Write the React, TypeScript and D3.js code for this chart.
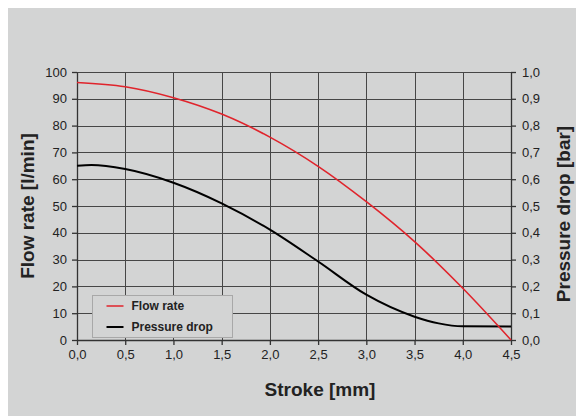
import { useEffect, useRef } from 'react';
import * as d3 from 'd3';

// Stroke positions [mm]
const strokes = [0, 0.5, 1.0, 1.5, 2.0, 2.5, 3.0, 3.5, 4.0, 4.5];
// Flow rate [l/min]
const flowRate = [96.1, 94.5, 90.4, 84.3, 75.7, 64.8, 51.6, 36.7, 19.3, 0];
// Pressure drop [bar]
const pressStrokes = [0, 0.15, 0.5, 1.0, 1.5, 2.0, 2.5, 3.0, 3.5, 3.75, 4.0, 4.5];
const pressureDrop = [0.65, 0.653, 0.638, 0.587, 0.51, 0.412, 0.293, 0.169, 0.087, 0.062, 0.051, 0.05];

const xTicks = [0, 0.5, 1.0, 1.5, 2.0, 2.5, 3.0, 3.5, 4.0, 4.5];
const leftTicks = [0, 10, 20, 30, 40, 50, 60, 70, 80, 90, 100];
const rightTicks = [0, 0.1, 0.2, 0.3, 0.4, 0.5, 0.6, 0.7, 0.8, 0.9, 1.0];

const seriesNames = ['Flow rate', 'Pressure drop'];
const seriesColors = ['#e0242c', '#000000'];

const fmt = (v: number) => v.toFixed(1).replace('.', ',');

export default function App() {
    const svgRef = useRef<SVGSVGElement>(null);

    useEffect(() => {
        if (!svgRef.current) return;
        const svg = d3.select(svgRef.current);
        svg.selectAll('*').remove();

        const width = 568;
        const height = 408;
        // svg sits at (8,8), like the body margin
        const margin = { top: 64, right: 65, bottom: 76, left: 69 };
        const innerWidth = width - margin.left - margin.right;
        const innerHeight = height - margin.top - margin.bottom;
        const font = '"Liberation Sans", Arial, sans-serif';

        svg.append('rect')
            .attr('width', width)
            .attr('height', height)
            .attr('fill', '#d3d4d4');

        const x = d3.scaleLinear().domain([0, 4.5]).range([0, innerWidth]);
        const yL = d3.scaleLinear().domain([0, 100]).range([innerHeight, 0]);
        const yR = d3.scaleLinear().domain([0, 1]).range([innerHeight, 0]);

        const g = svg.append('g')
            .attr('transform', `translate(${margin.left},${margin.top})`);

        // Grid
        g.append('g')
            .selectAll('line')
            .data(leftTicks)
            .enter()
            .append('line')
            .attr('x1', 0)
            .attr('x2', innerWidth)
            .attr('y1', d => Math.round(yL(d)) + 0.5)
            .attr('y2', d => Math.round(yL(d)) + 0.5)
            .attr('stroke', '#464646')
            .attr('stroke-width', 1);

        g.append('g')
            .selectAll('line')
            .data(xTicks)
            .enter()
            .append('line')
            .attr('x1', d => Math.round(x(d)) + 0.5)
            .attr('x2', d => Math.round(x(d)) + 0.5)
            .attr('y1', 0)
            .attr('y2', innerHeight)
            .attr('stroke', '#464646')
            .attr('stroke-width', 1);

        const styleAxis = (sel: d3.Selection<SVGGElement, unknown, null, undefined>) => {
            sel.select('.domain').attr('stroke', '#333').attr('stroke-width', 1.3);
            sel.selectAll('.tick line').attr('stroke', '#333').attr('stroke-width', 1.3);
            sel.selectAll('.tick text')
                .attr('fill', '#222')
                .attr('font-size', '13px')
                .attr('font-family', font);
        };

        // Left axis
        g.append('g')
            .call(d3.axisLeft(yL).tickValues(leftTicks).tickSize(5).tickSizeOuter(0).tickPadding(5))
            .call(styleAxis);

        // Right axis
        g.append('g')
            .attr('transform', `translate(${innerWidth},0)`)
            .call(d3.axisRight(yR).tickValues(rightTicks).tickSize(5).tickSizeOuter(0).tickPadding(6).tickFormat(d => fmt(+d)))
            .call(styleAxis);

        // Bottom axis
        g.append('g')
            .attr('transform', `translate(0,${innerHeight})`)
            .call(d3.axisBottom(x).tickValues(xTicks).tickSize(5).tickSizeOuter(0).tickPadding(5).tickFormat(d => fmt(+d)))
            .call(styleAxis);

        // Lines
        const flowLine = d3.line<number>()
            .x((_, i) => x(strokes[i]))
            .y(d => yL(d))
            .curve(d3.curveCatmullRom.alpha(0.5));
        const pressLine = d3.line<number>()
            .x((_, i) => x(pressStrokes[i]))
            .y(d => yR(d))
            .curve(d3.curveMonotoneX);

        g.append('path')
            .datum(pressureDrop)
            .attr('d', pressLine)
            .attr('fill', 'none')
            .attr('stroke', seriesColors[1])
            .attr('stroke-width', 2);

        g.append('path')
            .datum(flowRate)
            .attr('d', flowLine)
            .attr('fill', 'none')
            .attr('stroke', seriesColors[0])
            .attr('stroke-width', 1.6);

        // Legend
        const lg = g.append('g').attr('transform', `translate(${92 - 8 - margin.left + 0.5},${295 - 8 - margin.top + 0.5})`);
        lg.append('rect')
            .attr('width', 140)
            .attr('height', 42)
            .attr('fill', '#d3d4d4')
            .attr('stroke', '#a8a8a8');
        seriesNames.forEach((name, i) => {
            const yy = 10.5 + i * 21;
            lg.append('line')
                .attr('x1', 14)
                .attr('x2', 31)
                .attr('y1', yy)
                .attr('y2', yy)
                .attr('stroke', seriesColors[i])
                .attr('stroke-width', i === 0 ? 1.5 : 2);
            lg.append('text')
                .attr('x', 39)
                .attr('y', yy + 4)
                .attr('font-size', '12px')
                .attr('font-weight', 'bold')
                .attr('font-family', font)
                .attr('fill', '#222')
                .text(name);
        });

        // Axis titles
        svg.append('text')
            .attr('x', 312)
            .attr('y', 388)
            .attr('text-anchor', 'middle')
            .attr('font-size', '19px')
            .attr('font-weight', 'bold')
            .attr('font-family', font)
            .attr('fill', '#222')
            .text('Stroke [mm]');

        svg.append('text')
            .attr('transform', `translate(26,198) rotate(-90)`)
            .attr('text-anchor', 'middle')
            .attr('font-size', '19px')
            .attr('font-weight', 'bold')
            .attr('font-family', font)
            .attr('fill', '#222')
            .text('Flow rate [l/min]');

        svg.append('text')
            .attr('transform', `translate(562,206) rotate(-90)`)
            .attr('text-anchor', 'middle')
            .attr('font-size', '19px')
            .attr('font-weight', 'bold')
            .attr('font-family', font)
            .attr('fill', '#222')
            .text('Pressure drop [bar]');
    }, []);

    return (
        <svg
            ref={svgRef}
            width={568}
            height={408}
            style={{ display: 'block', position: 'fixed', left: 8, top: 8 }}
        />
    );
}
